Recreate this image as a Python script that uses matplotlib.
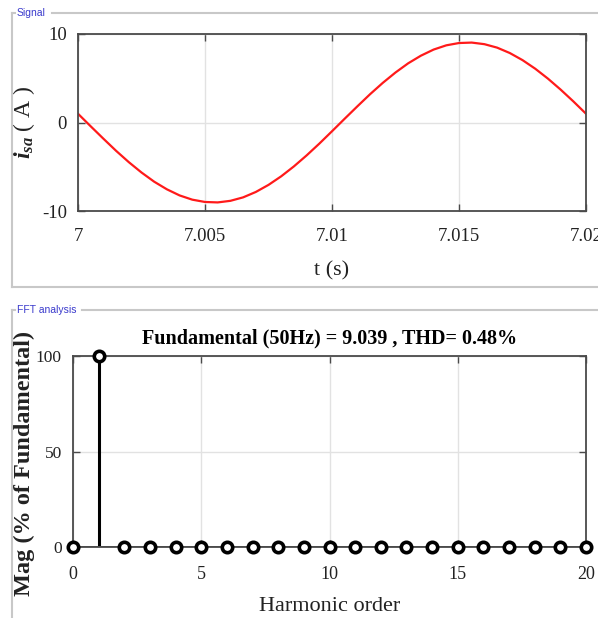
import matplotlib
matplotlib.use("Agg")
import matplotlib.pyplot as plt
from matplotlib.lines import Line2D
import numpy as np

# ---- data ----
fundamental_hz = 50
fundamental_amp = 9.039
thd_pct = 0.48

sample_time_s = np.linspace(7.0, 7.02, 41)
phase_current_a = [0.99, -0.43, -1.83, -3.20, -4.48, -5.65, -6.69, -7.55, -8.24, -8.72,
                   -8.98, -9.03, -8.85, -8.46, -7.85, -7.05, -6.08, -4.96, -3.72, -2.39,
                   -0.99, 0.43, 1.83, 3.20, 4.48, 5.65, 6.69, 7.55, 8.24, 8.72,
                   8.98, 9.03, 8.85, 8.46, 7.85, 7.05, 6.08, 4.96, 3.72, 2.39, 0.99]

harmonic_order = list(range(0, 21))
harmonic_mag_pct = [0.0, 100.0] + [0.0] * 19

time_ticks = [7.0, 7.005, 7.01, 7.015, 7.02]
time_tick_labels = ["7", "7.005", "7.01", "7.015", "7.02"]
current_ticks = [-10, 0, 10]
order_ticks = [0, 5, 10, 15, 20]
mag_ticks = [0, 50, 100]

# ---- style ----
W, H = 598, 618
serif = "Liberation Serif"
plt.rcParams["axes.unicode_minus"] = False
plt.rcParams["mathtext.fontset"] = "custom"
plt.rcParams["mathtext.rm"] = serif
plt.rcParams["mathtext.it"] = serif + ":italic"
plt.rcParams["mathtext.bf"] = serif + ":bold"
plt.rcParams["mathtext.bfit"] = serif + ":bold:italic"

spine_col = "#4a4a4a"
grid_col = "#e2e2e2"
box_col = "#c8c8c8"
label_col = "#3a3acc"
text_col = "#222222"

fig = plt.figure(figsize=(W / 100, H / 100), dpi=100)


def px_axes(x0, y0, x1, y1):
    return fig.add_axes([x0 / W, 1 - y1 / H, (x1 - x0) / W, (y1 - y0) / H])


def style_axes(ax, labelsize=13.5):
    ax.grid(True, color=grid_col, linewidth=1.0)
    ax.set_axisbelow(True)
    for s in ax.spines.values():
        s.set_color(spine_col)
        s.set_linewidth(1.3)
    ax.tick_params(direction="in", length=5, width=1.0, color=spine_col,
                   top=True, right=True, labelsize=labelsize, labelcolor=text_col)
    for lab in ax.get_xticklabels() + ax.get_yticklabels():
        lab.set_family(serif)


# group boxes with their captions
def group_box(top, bottom, gap_end, caption):
    kw = dict(color=box_col, linewidth=1.5, transform=None)
    fig.add_artist(Line2D([12, 12], [H - top, H - bottom], **kw))
    fig.add_artist(Line2D([12, 15], [H - top, H - top], **kw))
    fig.add_artist(Line2D([gap_end, W], [H - top, H - top], **kw))
    if bottom < H:
        fig.add_artist(Line2D([12, W], [H - bottom, H - bottom], **kw))
    fig.text(17 / W, 1 - top / H, caption, family="Liberation Sans", fontsize=7.5,
             color=label_col, va="center", ha="left")


group_box(13, 287, 52, "Signal")
group_box(310, H + 5, 82, "FFT analysis")

# ---- time-domain signal ----
ax1 = px_axes(78, 34, 586, 211)
ax1.plot(sample_time_s, phase_current_a, color="#ff1a1a", linewidth=1.6)
ax1.set_xlim(7.0, 7.02)
ax1.set_ylim(-10, 10)
ax1.set_xticks(time_ticks)
ax1.set_xticklabels(time_tick_labels)
ax1.set_yticks(current_ticks)
style_axes(ax1)
ax1.tick_params(axis="x", pad=12)
ax1.tick_params(axis="y", pad=8)
ax1.set_xlabel("t (s)", family=serif, fontsize=16, color=text_col, labelpad=12)
ax1.set_ylabel(r"$\mathbfit{i}_{\mathbfit{sa}}$ ( A )", family=serif, fontsize=17,
               color=text_col)
ax1.yaxis.set_label_coords(-0.081, 0.5)

# ---- harmonic spectrum ----
ax2 = px_axes(73, 356, 586, 547)
markers, stems, base = ax2.stem(harmonic_order, harmonic_mag_pct,
                                linefmt="k-", markerfmt="ko", basefmt="k-")
stems.set_linewidth(2.2)
markers.set_markerfacecolor("white")
markers.set_markeredgecolor("black")
markers.set_markeredgewidth(2.6)
markers.set_markersize(7.5)
markers.set_clip_on(False)
markers.set_zorder(5)
base.set_color(spine_col)
base.set_linewidth(1.3)
ax2.set_xlim(0, 20)
ax2.set_ylim(0, 100)
ax2.set_xticks(order_ticks)
ax2.set_yticks(mag_ticks)
style_axes(ax2, labelsize=13)
ax2.tick_params(axis="x", pad=14)
ax2.tick_params(axis="y", pad=8, labelsize=12.5)
ax2.set_title(f"Fundamental ({fundamental_hz}Hz) = {fundamental_amp} , THD= {thd_pct}%",
              family=serif, fontsize=14.5, fontweight="bold", pad=9)
ax2.set_xlabel("Harmonic order", family=serif, fontsize=16, color=text_col, labelpad=10)
ax2.set_ylabel("Mag (% of Fundamental)", family=serif, fontsize=17.5,
               fontweight="bold", color=text_col)
ax2.yaxis.set_label_coords(-0.074, 0.44)

fig.savefig("out.png", dpi=100)
